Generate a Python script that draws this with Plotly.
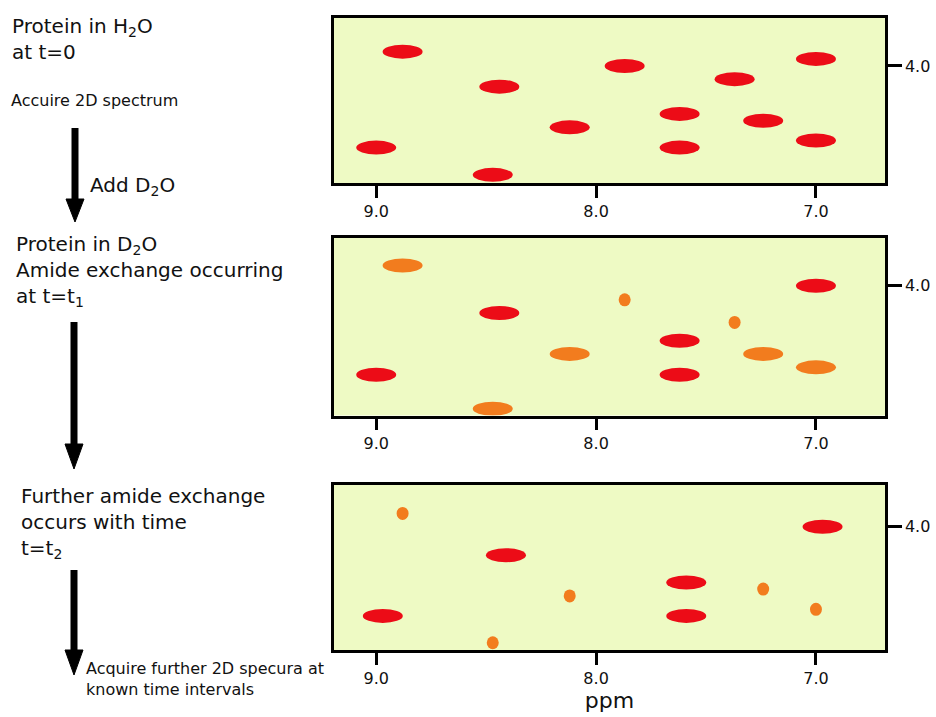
import plotly.graph_objects as go

# ---------------- data ----------------
TICK_PPM = [9.0, 8.0, 7.0]
TICK_PPM_TEXT = ["9.0", "8.0", "7.0"]
Y_TICK = [4.0]
Y_TICK_TEXT = ["4.0"]

# peak states: NH = amide proton (red ellipse), MIX = partly exchanged (orange ellipse), LOW = mostly exchanged (orange dot)
P1_X = [8.88, 8.44, 9.00, 8.47, 8.12, 7.87, 7.62, 7.62, 7.37, 7.24, 7.00, 7.00]
P1_Y = [3.935, 4.094, 4.371, 4.495, 4.279, 4.000, 4.218, 4.371, 4.060, 4.249, 3.968, 4.339]
P1_S = ["NH", "NH", "NH", "NH", "NH", "NH", "NH", "NH", "NH", "NH", "NH", "NH"]

P2_X = [8.88, 8.44, 9.00, 8.47, 8.12, 7.87, 7.62, 7.62, 7.37, 7.24, 7.00, 7.00]
P2_Y = [3.908, 4.124, 4.405, 4.559, 4.310, 4.064, 4.250, 4.405, 4.167, 4.310, 4.000, 4.371]
P2_S = ["MIX", "NH", "NH", "MIX", "MIX", "LOW", "NH", "NH", "LOW", "MIX", "NH", "MIX"]

P3_X = [8.88, 8.41, 8.97, 8.47, 8.12, 7.59, 7.59, 7.24, 6.97, 7.00]
P3_Y = [3.939, 4.129, 4.405, 4.527, 4.314, 4.253, 4.405, 4.283, 4.000, 4.375]
P3_S = ["LOW", "NH", "NH", "LOW", "LOW", "NH", "NH", "LOW", "NH", "LOW"]

PANELS = [(P1_X, P1_Y, P1_S), (P2_X, P2_Y, P2_S), (P3_X, P3_Y, P3_S)]

# ---------------- style ----------------
W, H = 936, 717
FONT = "DejaVu Sans"
BG = "#eefac4"
RED = "#ec0c17"
ORANGE = "#f27c1e"
STYLE = {"NH": (RED, 20, 7), "MIX": (ORANGE, 20, 7), "LOW": (ORANGE, 6, 6.5)}

X_DOMAIN = [334 / W, 885 / W]
Y_PIX = [(18, 183), (238, 415.5), (485, 650)]
Y_RANGES = [[4.532, 3.782], [4.590, 3.783], [4.560, 3.810]]
X_RANGE = [9.192, 6.686]


def px(x):
    return x / W


def py(y):
    return 1 - y / H


fig = go.Figure()
shapes = []

for i, (xs, ys, ss) in enumerate(PANELS, start=1):
    sfx = "" if i == 1 else str(i)
    xref, yref = "x" + sfx, "y" + sfx
    # invisible scatter so each subplot carries its peaks as a trace (hover)
    fig.add_trace(go.Scatter(
        x=xs, y=ys, mode="markers", xaxis=xref, yaxis=yref,
        marker=dict(size=12, color=[STYLE[s][0] for s in ss], opacity=0),
        hovertemplate="%{x:.2f} ppm, %{y:.2f}<extra></extra>", showlegend=False,
    ))
    for x, y, s in zip(xs, ys, ss):
        col, hw, hh = STYLE[s]
        shapes.append(dict(
            type="circle", xref=xref, yref=yref,
            xsizemode="pixel", ysizemode="pixel", xanchor=x, yanchor=y,
            x0=-hw, x1=hw, y0=-hh, y1=hh,
            fillcolor=col, line=dict(width=0), layer="above",
        ))
    top, bot = Y_PIX[i - 1]
    axis_common = dict(showline=True, mirror=True, linecolor="black", linewidth=2.5,
                       showgrid=False, zeroline=False, ticks="outside", tickcolor="black",
                       tickfont=dict(family=FONT, size=16, color="#111"))
    fig.update_layout(**{
        "xaxis" + sfx: dict(domain=X_DOMAIN, range=X_RANGE, anchor=yref,
                            tickvals=TICK_PPM, ticktext=TICK_PPM_TEXT,
                            ticklen=12, tickwidth=3, ticklabelstandoff=0, **axis_common),
        "yaxis" + sfx: dict(domain=[py(bot), py(top)], range=Y_RANGES[i - 1], anchor=xref,
                            side="right", tickvals=Y_TICK, ticktext=Y_TICK_TEXT,
                            ticklen=14, tickwidth=2.5, **axis_common),
    })

fig.update_layout(xaxis3_title=dict(text="ppm", font=dict(family=FONT, size=22, color="#111"), standoff=6))

# arrows (paper coordinates)
for xc, y0, y1, yh, tip in [(75, 128, 204, 199, 222), (74, 322, 448, 444, 469), (74, 570, 654, 650, 675)]:
    shapes.append(dict(type="line", xref="paper", yref="paper", x0=px(xc), x1=px(xc),
                       y0=py(y0), y1=py(y1), line=dict(color="black", width=7)))
    shapes.append(dict(type="path", xref="paper", yref="paper",
                       path=f"M {px(xc - 9)} {py(yh)} L {px(xc + 9)} {py(yh)} L {px(xc)} {py(tip)} Z",
                       fillcolor="black", line=dict(color="black", width=1)))

# left-side captions (blocks of lines)
LABELS = [
    ("Protein in H<sub>2</sub>O<br>at t=0", 11, 39, 20),
    ("Accuire 2D spectrum", 10, 100, 16),
    ("Add D<sub>2</sub>O", 89, 186, 20),
    ("Protein in D<sub>2</sub>O<br>Amide exchange occurring<br>at t=t<sub>1</sub>", 15, 271, 20),
    ("Further amide exchange<br>occurs with time<br>t=t<sub>2</sub>", 20, 523, 20),
    ("Acquire further 2D specura at<br>known time intervals", 85, 679, 16),
]
annotations = []
for text, x, y, size in LABELS:
    annotations.append(dict(text=text, x=px(x), y=py(y), xref="paper", yref="paper",
                            xanchor="left", yanchor="middle", align="left", showarrow=False,
                            borderpad=0, font=dict(family=FONT, size=size, color="#111")))

fig.update_layout(
    width=W, height=H, margin=dict(l=0, r=0, t=0, b=0),
    paper_bgcolor="white", plot_bgcolor=BG,
    shapes=shapes, annotations=annotations, showlegend=False,
    font=dict(family=FONT, color="#111"),
)

fig.write_html("out.html")
